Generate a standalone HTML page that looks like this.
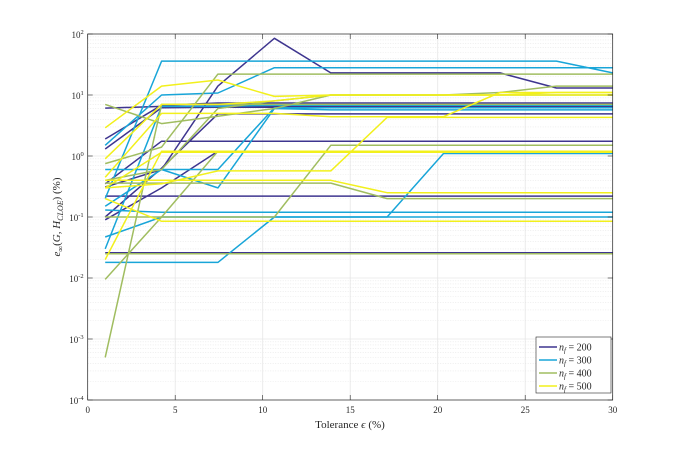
<!DOCTYPE html>
<html><head><meta charset="utf-8"><style>
html,body{margin:0;padding:0;background:#fff;width:676px;height:451px;overflow:hidden}
svg text{font-family:"Liberation Serif",serif;fill:#262626}
</style></head><body>
<svg id="chart" width="676" height="451" xmlns="http://www.w3.org/2000/svg">
<g id="grid"></g>
<g id="series"></g>
<g id="axes"></g>
<text x="350" y="428" font-size="11" text-anchor="middle">Tolerance <tspan font-style="italic">ϵ</tspan> (%)</text>
<text transform="translate(60,217) rotate(-90)" font-size="11" text-anchor="middle"><tspan font-style="italic">e</tspan><tspan font-size="8" dy="3">∞</tspan><tspan dy="-3">(</tspan><tspan font-style="italic">G, H</tspan><tspan font-size="8" font-style="italic" dy="3">CLOE</tspan><tspan dy="-3">) (%)</tspan></text>
<g id="legend"></g>
</svg>
<script>
const xs=[1,4.22,7.44,10.67,13.89,17.11,20.33,23.56,26.78,30];
const xTicks=[0,5,10,15,20,25,30];
const yTickExp=[-4,-3,-2,-1,0,1,2];
const seriesNames=["n200","n300","n400","n500"];
const seriesLabels=["200","300","400","500"];
const colors=["#3e358f","#18a5d8","#a0bd60","#f2f01c"];
const n200=[
[0.31,0.6,14,85,23,23,23,23,13,13],
[1.9,6.8,7.4,7.4,7.4,7.4,7.4,7.4,7.4,7.4],
[6.1,6.5,6.6,6.6,6.6,6.6,6.6,6.6,6.6,6.6],
[1.3,6.2,6.3,6.3,6.3,6.3,6.3,6.3,6.3,6.3],
[0.1,0.63,4.9,4.9,4.9,4.9,4.9,4.9,4.9,4.9],
[0.35,1.75,1.75,1.75,1.75,1.75,1.75,1.75,1.75,1.75],
[0.22,0.22,0.22,0.22,0.22,0.22,0.22,0.22,0.22,0.22],
[0.09,0.3,1.2,1.2,1.2,1.2,1.2,1.2,1.2,1.2],
[0.026,0.026,0.026,0.026,0.026,0.026,0.026,0.026,0.026,0.026]];
const n300=[
[0.2,36,36,36,36,36,36,36,36,23],
[1.5,10,10.8,28,28,28,28,28,28,28],
[0.15,0.6,0.3,6,5.7,5.7,5.7,5.7,5.7,5.7],
[0.6,0.6,0.6,6.2,6.2,6.2,6.2,6.2,6.2,6.2],
[0.13,0.12,0.12,0.12,0.12,0.12,0.12,0.12,0.12,0.12],
[0.047,0.1,0.1,0.1,0.1,0.1,1.1,1.1,1.1,1.1],
[0.018,0.018,0.018,0.1,0.1,0.1,0.1,0.1,0.1,0.1],
[0.03,6.5,6.5,6.8,6.8,6.8,6.8,6.8,6.8,6.8]];
const n400=[
[7,3.4,4.5,6,10,10,10,10,10,10],
[0.75,1.4,22,22,22,22,22,22,22,22],
[0.0095,0.1,1.2,1.2,1.2,1.2,1.2,1.2,1.2,1.2],
[0.0005,7,7,7,7,7,7,7,7,7],
[0.36,0.36,0.36,0.36,0.36,0.2,0.2,0.2,0.2,0.2],
[0.1,0.1,0.1,0.1,1.5,1.5,1.5,1.5,1.5,1.5],
[0.025,0.025,0.025,0.025,0.025,0.025,0.025,0.025,0.025,0.025],
[0.4,0.6,6,8,10,10,10,11,14,14]];
const n500=[
[2.9,14,17.6,9.5,10,10,10,10,10,10],
[0.9,7,7,8,10,10,10,10,11,11],
[0.45,5,5,5,4.4,4.4,4.4,11,11,11],
[0.3,0.35,0.57,0.57,0.57,4.3,4.3,4.3,4.3,4.3],
[0.3,1.15,1.15,1.15,1.15,1.15,1.15,1.15,1.15,1.15],
[0.4,0.4,0.4,0.4,0.4,0.25,0.25,0.25,0.25,0.25],
[0.2,0.085,0.085,0.085,0.085,0.085,0.085,0.085,0.085,0.085],
[0.02,1.2,1.2,1.2,1.2,1.2,1.2,1.2,1.2,1.2]];
const allSeries=[n200,n300,n400,n500];
const X0=87.7,X1=612.7,YTOP=34,PERDEC=61;
function xp(v){return X0+(v-0)/30*(X1-X0);}
function yp(v){return YTOP+(2-Math.log10(v))*PERDEC;}
const NS="http://www.w3.org/2000/svg";
function mk(t,a,p){const e=document.createElementNS(NS,t);for(const k in a)e.setAttribute(k,a[k]);p.appendChild(e);return e;}
const grid=document.getElementById('grid'),axes=document.getElementById('axes'),ser=document.getElementById('series'),leg=document.getElementById('legend');
const YB=yp(1e-4);
mk('rect',{x:X0,y:YTOP,width:X1-X0,height:YB-YTOP,fill:'#fff'},grid);
for(let e=-4;e<2;e++){for(let m=2;m<10;m++){const y=yp(m*Math.pow(10,e));
const l=mk('line',{x1:X0,x2:X1,y1:y,y2:y,stroke:'#e3e3e3','stroke-width':0.6,'stroke-dasharray':'1,1.5'},grid);

}}
yTickExp.forEach(e=>{const y=yp(Math.pow(10,e));
const l=mk('line',{x1:X0,x2:X1,y1:y,y2:y,stroke:'#e6e6e6','stroke-width':0.8},grid);


const t=mk('text',{x:X0-4,y:y+4,'font-size':9,'text-anchor':'end'},axes);


t.innerHTML='10<tspan font-size="6.5" dy="-4">'+e+'</tspan>';
mk('line',{x1:X0,x2:X0+5,y1:y,y2:y,stroke:'#262626','stroke-width':0.6},axes);
mk('line',{x1:X1,x2:X1-5,y1:y,y2:y,stroke:'#262626','stroke-width':0.6},axes);});
xTicks.forEach(v=>{const x=xp(v);
const l=mk('line',{x1:x,x2:x,y1:YTOP,y2:YB,stroke:'#e6e6e6','stroke-width':0.8},grid);


mk('line',{x1:x,x2:x,y1:YB,y2:YB-5,stroke:'#262626','stroke-width':0.6},axes);
mk('line',{x1:x,x2:x,y1:YTOP,y2:YTOP+5,stroke:'#262626','stroke-width':0.6},axes);
const t=mk('text',{x:x,y:YB+13,'font-size':9,'text-anchor':'middle'},axes);


t.textContent=v;});
const box=mk('rect',{x:X0,y:YTOP,width:X1-X0,height:YB-YTOP,fill:'none',stroke:'#262626','stroke-width':0.7},axes);


allSeries.forEach((grp,gi)=>{grp.forEach((vals,li)=>{
const pts=vals.map((v,i)=>xp(xs[i]).toFixed(1)+','+yp(v).toFixed(1)).join(' ');
const pl=mk('polyline',{points:pts,fill:'none',stroke:colors[gi],'stroke-width':1.5,'stroke-linejoin':'round'},ser);

});});
const lb=mk('rect',{x:536,y:337,width:75,height:56,fill:'#fff',stroke:'#262626','stroke-width':0.6},leg);


seriesLabels.forEach((s,i)=>{const y=347+i*13;
const g=mk('g',{},leg);


mk('line',{x1:539,x2:557,y1:y,y2:y,stroke:colors[i],'stroke-width':1.5},g);
const t=mk('text',{x:559,y:y+3.5,'font-size':10},g);
t.innerHTML='<tspan font-style="italic">n</tspan><tspan font-size="7" font-style="italic" dy="2">f</tspan><tspan dy="-2"> = '+s+'</tspan>';});
</script>
</body></html>
